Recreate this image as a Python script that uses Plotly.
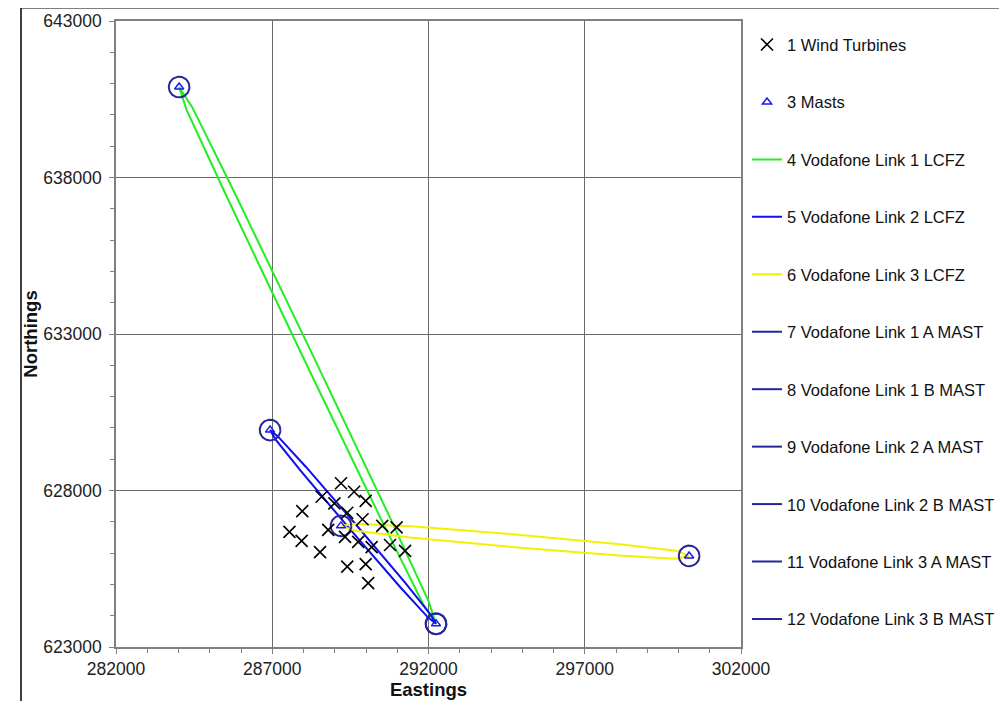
import numpy as np
import plotly.graph_objects as go

# ---------------- data ----------------
turbine_e = [289200, 289620, 288580, 289990, 288990, 287960, 289400, 289890, 290520, 290980,
             288790, 287550, 289330, 289750, 287940, 290180, 290770, 291250, 288530, 289400,
             289990, 290070]
turbine_n = [628230, 627960, 627800, 627670, 627590, 627340, 627290, 627080, 626870, 626820,
             626740, 626680, 626520, 626360, 626390, 626190, 626260, 626070, 626030, 625570,
             625650, 625040]

mast_names = ["M1", "M2", "M3", "M4", "M5"]
mast_e = [284020, 286930, 289200, 292240, 300340]
mast_n = [640890, 629930, 626870, 623740, 625910]

link_names = ["4 Vodafone Link 1 LCFZ", "5 Vodafone Link 2 LCFZ", "6 Vodafone Link 3 LCFZ"]
link_from = ["M1", "M2", "M3"]
link_to = ["M4", "M4", "M5"]
link_colors = ["#22ee22", "#1010ee", "#f2f200"]
# LCFZ half-width (m) along each link, at these fractions of the path
lcfz_fracs = [0.0, 0.04, 0.2, 0.5, 0.8, 0.96, 1.0]
lcfz_halfwidth = [
    [0, 100, 140, 155, 140, 100, 0],
    [0, 60, 105, 120, 105, 60, 0],
    [0, 110, 180, 205, 180, 130, 0],
]

circle_names = ["7 Vodafone Link 1 A MAST", "8 Vodafone Link 1 B MAST",
                "9 Vodafone Link 2 A MAST", "10 Vodafone Link 2 B MAST",
                "11 Vodafone Link 3 A MAST", "12 Vodafone Link 3 B MAST"]
circle_mast = ["M1", "M4", "M2", "M4", "M3", "M5"]
circle_radius = 330  # m

x_ticks = [282000, 287000, 292000, 297000, 302000]
y_ticks = [623000, 628000, 633000, 638000, 643000]

# ---------------- figure ----------------
FONT = "Arial, Liberation Sans, sans-serif"
fig = go.Figure()
mast_pos = {n: (e, nn) for n, e, nn in zip(mast_names, mast_e, mast_n)}

rank = 10
for name, a, b, col, hw in zip(link_names, link_from, link_to, link_colors, lcfz_halfwidth):
    p0 = np.array(mast_pos[a], float)
    p1 = np.array(mast_pos[b], float)
    d = p1 - p0
    nvec = np.array([-d[1], d[0]]) / np.hypot(*d)
    f = np.array(lcfz_fracs)[:, None]
    w = np.array(hw, float)[:, None]
    side1 = p0 + f * d + w * nvec
    side2 = (p0 + f * d - w * nvec)[::-1]
    poly = np.vstack([side1, side2, side1[:1]])
    fig.add_trace(go.Scatter(x=poly[:, 0], y=poly[:, 1], mode="lines", name=name,
                             line=dict(color=col, width=2), legendgroup=name,
                             legendrank=rank, hoverinfo="skip"))
    rank += 1

theta = np.linspace(0, 2 * np.pi, 73)
for name, m in zip(circle_names, circle_mast):
    cx, cy = mast_pos[m]
    fig.add_trace(go.Scatter(x=cx + circle_radius * np.cos(theta),
                             y=cy + circle_radius * np.sin(theta),
                             mode="lines", name=name, legendgroup=name, legendrank=rank,
                             line=dict(color="#26269a", width=2), hoverinfo="skip"))
    rank += 1

fig.add_trace(go.Scatter(x=turbine_e, y=turbine_n, mode="markers", name="1 Wind Turbines",
                         legendgroup="t", legendrank=1,
                         marker=dict(symbol="x-thin-open", size=12, color="black",
                                     line=dict(color="black", width=1.6))))
fig.add_trace(go.Scatter(x=mast_e, y=mast_n, mode="markers", name="3 Masts",
                         legendgroup="m", legendrank=2, text=mast_names,
                         marker=dict(symbol="triangle-up-open", size=8, color="#1a1aee",
                                     line=dict(color="#1a1aee", width=1.5))))

axis_common = dict(
    showline=True, linecolor="#808080", linewidth=1.5, mirror=True,
    showgrid=True, gridcolor="#6a6a6a", gridwidth=1,
    ticks="outside", ticklen=5, tickcolor="#808080", tickwidth=1,
    zeroline=False, automargin=False,
    tickfont=dict(family=FONT, size=17.5, color="#222"),
    minor=dict(dtick=1000, ticks="outside", ticklen=4, tickcolor="#808080", showgrid=False),
)
fig.update_xaxes(range=[282000, 302000], tickmode="array", tickvals=x_ticks,
                 ticktext=[str(v) for v in x_ticks],
                 title=dict(text="<b>Eastings</b>", font=dict(family=FONT, size=18.5, color="#111"),
                            standoff=2), **axis_common)
fig.update_yaxes(range=[623000, 643000], tickmode="array", tickvals=y_ticks,
                 ticktext=[str(v) for v in y_ticks], ticklabelstandoff=4,
                 title=dict(text="<b>Northings</b>", font=dict(family=FONT, size=18.5, color="#111"),
                            standoff=1), **axis_common)

fig.update_layout(
    width=999, height=693,
    margin=dict(l=108, r=266, t=13, b=54, pad=0, autoexpand=False),
    paper_bgcolor="white", plot_bgcolor="white",
    font=dict(family=FONT, size=16.5, color="#111"),
    legend=dict(x=1.0096, xanchor="left", y=0.990, yanchor="top",
                font=dict(family=FONT, size=16.5, color="#111"),
                tracegroupgap=33, bgcolor="rgba(0,0,0,0)", itemwidth=30),
    showlegend=True,
    shapes=[dict(type="rect", xref="paper", yref="paper", x0=-0.152, x1=1.5,
                 y0=-0.2, y1=1.021, line=dict(color="black", width=1.5), layer="below")],
)

fig.write_html("out.html")
